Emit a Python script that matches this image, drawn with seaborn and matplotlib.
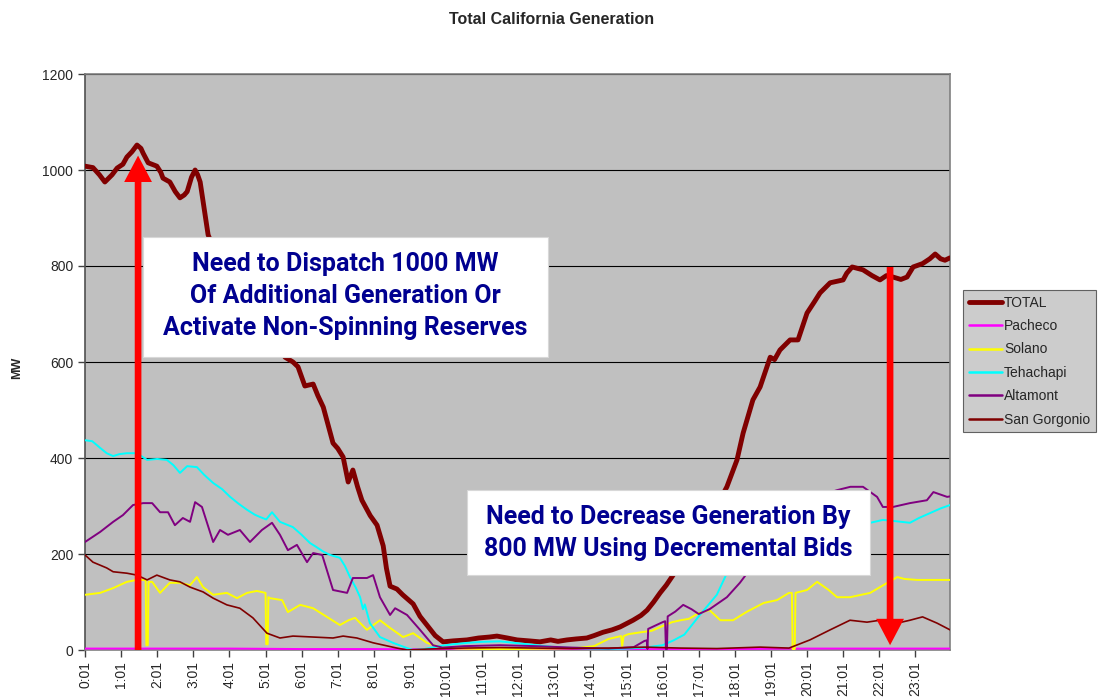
import seaborn as sns
import matplotlib.pyplot as plt
import matplotlib.patches as mpatches
import pandas as pd
import numpy as np

# hours after 0:01 and MW
total_x = [0.00, 0.22, 0.40, 0.55, 0.75, 0.89, 1.05, 1.16, 1.30, 1.44, 1.55, 1.61, 1.75, 1.99, 2.10,
           2.16, 2.35, 2.50, 2.63, 2.75, 2.83, 2.95, 3.05, 3.12, 3.19, 3.32, 3.41, 3.60, 4.00, 4.50,
           5.00, 5.30, 5.54, 5.76, 5.90, 6.09, 6.20, 6.32, 6.45, 6.60, 6.87, 7.00, 7.15, 7.29, 7.42,
           7.55, 7.67, 7.90, 8.09, 8.26, 8.35, 8.45, 8.64, 8.80, 9.09, 9.28, 9.47, 9.70, 9.92, 10.20,
           10.58, 10.90, 11.20, 11.41, 11.70, 11.97, 12.30, 12.60, 12.90, 13.10, 13.35, 13.60, 13.90,
           14.10, 14.35, 14.60, 14.82, 15.00, 15.18, 15.40, 15.57, 15.75, 15.93, 16.10, 16.29, 16.50,
           16.75, 17.00, 17.25, 17.50, 17.78, 18.06, 18.23, 18.50, 18.70, 18.98, 19.10, 19.25, 19.53,
           19.75, 20.00, 20.20, 20.36, 20.64, 21.00, 21.10, 21.25, 21.55, 21.80, 22.02, 22.20, 22.38,
           22.60, 22.77, 22.94, 23.20, 23.40, 23.55, 23.70, 23.82, 23.96]
total_y = [1008, 1005, 990, 975, 990, 1004, 1012, 1027, 1038, 1052, 1045, 1035, 1015, 1008, 995,
           983, 975, 955, 942, 948, 955, 985, 1000, 990, 975, 910, 865, 830, 790, 730,
           680, 640, 610, 600, 590, 550, 552, 554, 530, 506, 431, 420, 402, 350, 375,
           340, 312, 280, 260, 217, 170, 133, 127, 115, 96, 70, 52, 30, 17, 19,
           21, 25, 27, 29, 25, 21, 19, 17, 21, 18, 21, 23, 25,
           30, 37, 42, 48, 55, 62, 72, 83, 100, 119, 135, 156, 185,
           215, 245, 275, 300, 340, 396, 452, 521, 548, 610, 605, 625, 646,
           646, 702, 725, 744, 765, 771, 785, 798, 792, 780, 771, 780, 777,
           772, 777, 798, 805, 815, 825, 815, 812, 817]

pacheco_x = [0, 2, 4, 6, 8, 10, 12, 14, 16, 18, 20, 22, 23.96]
pacheco_y = [3, 3, 3, 2, 2, 1, 1, 1, 2, 2, 3, 3, 3]

solano_x = [0.00, 0.42, 0.78, 1.16, 1.44, 1.68, 1.70, 1.74, 1.76, 1.86, 2.08, 2.35, 2.63, 2.91, 3.10,
            3.27, 3.55, 3.93, 4.21, 4.49, 4.76, 5.00, 5.02, 5.06, 5.08, 5.12, 5.46, 5.62, 5.96, 6.32,
            6.70, 7.06, 7.30, 7.48, 7.81, 8.17, 8.45, 8.81, 9.09, 9.47, 9.83, 10.30, 11.00, 12.00,
            13.00, 13.60, 14.10, 14.50, 14.85, 14.88, 14.92, 15.05, 15.40, 15.70, 16.00, 16.26, 16.50,
            16.73, 17.00, 17.30, 17.60, 17.95, 18.34, 18.80, 19.17, 19.50, 19.58, 19.60, 19.66, 19.68,
            20.00, 20.28, 20.60, 20.83, 21.19, 21.75, 22.02, 22.50, 22.70, 23.05, 23.50, 23.96]
solano_y = [115, 119, 129, 142, 146, 146, 10, 10, 142, 142, 119, 140, 140, 135, 152,
            131, 115, 119, 108, 119, 123, 119, 12, 12, 110, 108, 104, 79, 94, 87,
            69, 52, 62, 67, 42, 62, 46, 27, 35, 15, 6, 3, 2, 2,
            3, 4, 8, 23, 29, 8, 29, 33, 37, 40, 50, 58, 62,
            65, 77, 83, 62, 62, 80, 98, 104, 119, 119, 2, 2, 119,
            125, 142, 125, 110, 110, 119, 131, 152, 148, 146, 146, 146]

tehachapi_x = [0.00, 0.20, 0.42, 0.60, 0.78, 0.95, 1.16, 1.44, 1.72, 2.00, 2.27, 2.45, 2.63, 2.83,
               3.10, 3.30, 3.55, 3.80, 4.02, 4.25, 4.49, 4.70, 4.85, 5.02, 5.18, 5.40, 5.76, 6.00,
               6.23, 6.40, 6.60, 6.79, 7.06, 7.20, 7.34, 7.50, 7.62, 7.70, 7.75, 7.89, 8.17, 8.53,
               8.92, 9.09, 9.40, 9.80, 10.20, 10.60, 11.00, 11.50, 12.00, 12.50, 13.00, 13.50, 14.00,
               14.50, 15.00, 15.50, 16.00, 16.30, 16.60, 17.00, 17.50, 17.78, 18.50, 19.50, 20.50,
               21.20, 21.75, 22.10, 22.50, 22.85, 23.10, 23.40, 23.70, 23.96]
tehachapi_y = [437, 435, 421, 410, 404, 408, 410, 410, 396, 398, 396, 385, 369, 383,
               381, 365, 348, 335, 319, 305, 292, 282, 277, 272, 287, 267, 256, 240,
               223, 215, 205, 198, 192, 175, 152, 130, 110, 85, 95, 56, 27, 15,
               4, 0, 2, 8, 12, 15, 17, 18, 14, 10, 6, 4, 3,
               2, 3, 5, 10, 20, 32, 70, 115, 160, 200, 230, 250,
               258, 265, 271, 268, 265, 275, 285, 295, 302]

altamont_x = [0.00, 0.42, 0.78, 1.05, 1.33, 1.61, 1.86, 2.08, 2.30, 2.49, 2.71, 2.91, 3.05, 3.24,
              3.55, 3.74, 3.96, 4.29, 4.57, 4.90, 5.18, 5.40, 5.62, 5.87, 6.15, 6.32, 6.57, 6.87,
              7.26, 7.42, 7.81, 7.98, 8.17, 8.45, 8.59, 8.92, 9.28, 9.64, 9.90, 10.50, 11.50, 12.50,
              13.50, 14.50, 15.20, 15.50, 15.56, 15.58, 15.60, 16.00, 16.07, 16.09, 16.12, 16.14,
              16.35, 16.57, 16.80, 17.00, 17.30, 17.78, 18.14, 18.34, 19.00, 19.50, 20.00, 20.50,
              20.83, 21.20, 21.55, 21.94, 22.10, 22.38, 22.85, 23.32, 23.50, 23.88, 23.96]
altamont_y = [225, 246, 267, 281, 302, 306, 306, 287, 287, 260, 275, 267, 308, 298,
              225, 250, 240, 250, 225, 250, 265, 240, 208, 219, 183, 202, 198, 125,
              119, 150, 150, 156, 110, 73, 87, 73, 42, 10, 5, 8, 10, 8,
              5, 3, 6, 19, 20, 2, 44, 58, 60, 2, 2, 70,
              80, 94, 85, 75, 85, 110, 140, 160, 220, 260, 300, 325,
              333, 340, 340, 319, 298, 298, 306, 312, 329, 319, 320]

gorgonio_x = [0.00, 0.22, 0.60, 0.78, 1.16, 1.44, 1.72, 1.99, 2.35, 2.63, 2.91, 3.27, 3.55, 3.93,
              4.29, 4.65, 5.04, 5.40, 5.76, 6.32, 6.87, 7.15, 7.53, 7.98, 8.64, 8.92, 9.50, 10.50,
              11.50, 12.50, 13.50, 14.50, 15.50, 16.50, 17.50, 18.70, 19.50, 20.08, 20.64, 21.19,
              21.66, 22.02, 22.50, 22.85, 23.20, 23.60, 23.96]
gorgonio_y = [198, 183, 171, 163, 160, 156, 146, 156, 146, 142, 131, 121, 108, 94,
              87, 67, 35, 25, 29, 27, 25, 29, 25, 15, 4, 0, 2, 4,
              5, 4, 3, 4, 6, 4, 3, 6, 4, 21, 42, 62,
              58, 62, 56, 62, 69, 56, 42]

hour_labels = [f"{h}:01" for h in range(24)]

series = [
    ("TOTAL", total_x, total_y, "#800000", 3.5),
    ("Pacheco", pacheco_x, pacheco_y, "#FF00FF", 1.4),
    ("Solano", solano_x, solano_y, "#FFFF00", 1.4),
    ("Tehachapi", tehachapi_x, tehachapi_y, "#00FFFF", 1.4),
    ("Altamont", altamont_x, altamont_y, "#800080", 1.4),
    ("San Gorgonio", gorgonio_x, gorgonio_y, "#800000", 1.2),
]

sns.set_style("ticks", {"axes.facecolor": "#C0C0C0"})
plt.rcParams['font.family'] = ['Liberation Sans', 'DejaVu Sans']

fig = plt.figure(figsize=(11.04, 7.0), dpi=100)
ax = fig.add_axes([85/1104, 50/700, 865/1104, 576/700])

handles = []
for name, xs, ys, col, lw in series:
    df = pd.DataFrame({"hour": xs, "MW": ys})
    sns.lineplot(data=df, x="hour", y="MW", color=col, linewidth=lw, ax=ax, zorder=3)
    handles.append(plt.Line2D([], [], color=col, lw=(3.5 if name == "TOTAL" else 1.8), label=name))

ax.set_xlim(0, 23.96)
ax.set_ylim(0, 1200)
ax.set_yticks(np.arange(0, 1201, 200))
ax.set_xticks(range(24))
ax.set_xticklabels(hour_labels, rotation=90, fontsize=10)
ax.tick_params(axis='y', labelsize=10, length=5, width=1, color='#404040')
ax.tick_params(axis='x', length=5, width=1, color='#404040', pad=3)
ax.yaxis.grid(True, color='black', lw=0.8)
ax.set_axisbelow(True)
for s in ax.spines.values():
    s.set_color('#808080')
    s.set_linewidth(1.2)
ax.spines['left'].set_color('#505050')
ax.set_xlabel("")
ax.set_ylabel("MW", fontsize=9, fontweight='bold')
ax.yaxis.set_label_coords(-0.071, 0.49)

# white call-out boxes
box_font = ['Roboto', 'DejaVu Sans']
ax.add_patch(mpatches.Rectangle((1.61, 610), 11.22, 250, facecolor='white', edgecolor='#d8d8d8',
                                lw=0.8, zorder=5))
ax.text(7.2, 738, "Need to Dispatch 1000 MW\nOf Additional Generation Or\nActivate Non-Spinning Reserves",
        ha='center', va='center', fontsize=18, fontweight='bold', color='#000090',
        family=box_font, linespacing=1.42, zorder=6)
ax.add_patch(mpatches.Rectangle((10.58, 156), 11.17, 177, facecolor='white', edgecolor='#d8d8d8',
                                lw=0.8, zorder=5))
ax.text(16.15, 244, "Need to Decrease Generation By\n800 MW Using Decremental Bids",
        ha='center', va='center', fontsize=18, fontweight='bold', color='#000090',
        family=box_font, linespacing=1.45, zorder=6)

# red arrows
arrow_style = mpatches.ArrowStyle.Simple(head_length=19, head_width=20, tail_width=4.8)
ax.add_patch(mpatches.FancyArrowPatch((1.47, 0), (1.47, 1030), arrowstyle=arrow_style,
                                      mutation_scale=1, color='#FF0000', lw=0,
                                      shrinkA=0, shrinkB=0, zorder=7))
ax.add_patch(mpatches.FancyArrowPatch((22.3, 798), (22.3, 10), arrowstyle=arrow_style,
                                      mutation_scale=1, color='#FF0000', lw=0,
                                      shrinkA=0, shrinkB=0, zorder=7))

fig.text(0.5, 1 - 19/700, "Total California Generation", ha='center', va='center',
         fontsize=11.5, fontweight='bold')

leg = ax.legend(handles=handles, loc='upper left', bbox_to_anchor=(963/1104, 1 - 290/700),
                bbox_transform=fig.transFigure, fontsize=10, frameon=True, fancybox=False,
                edgecolor='#404040', handlelength=2.4, handletextpad=0.15, labelspacing=0.68,
                borderpad=0.4, borderaxespad=0)
leg.get_frame().set_linewidth(0.8)

plt.savefig("out.png", dpi=100)
